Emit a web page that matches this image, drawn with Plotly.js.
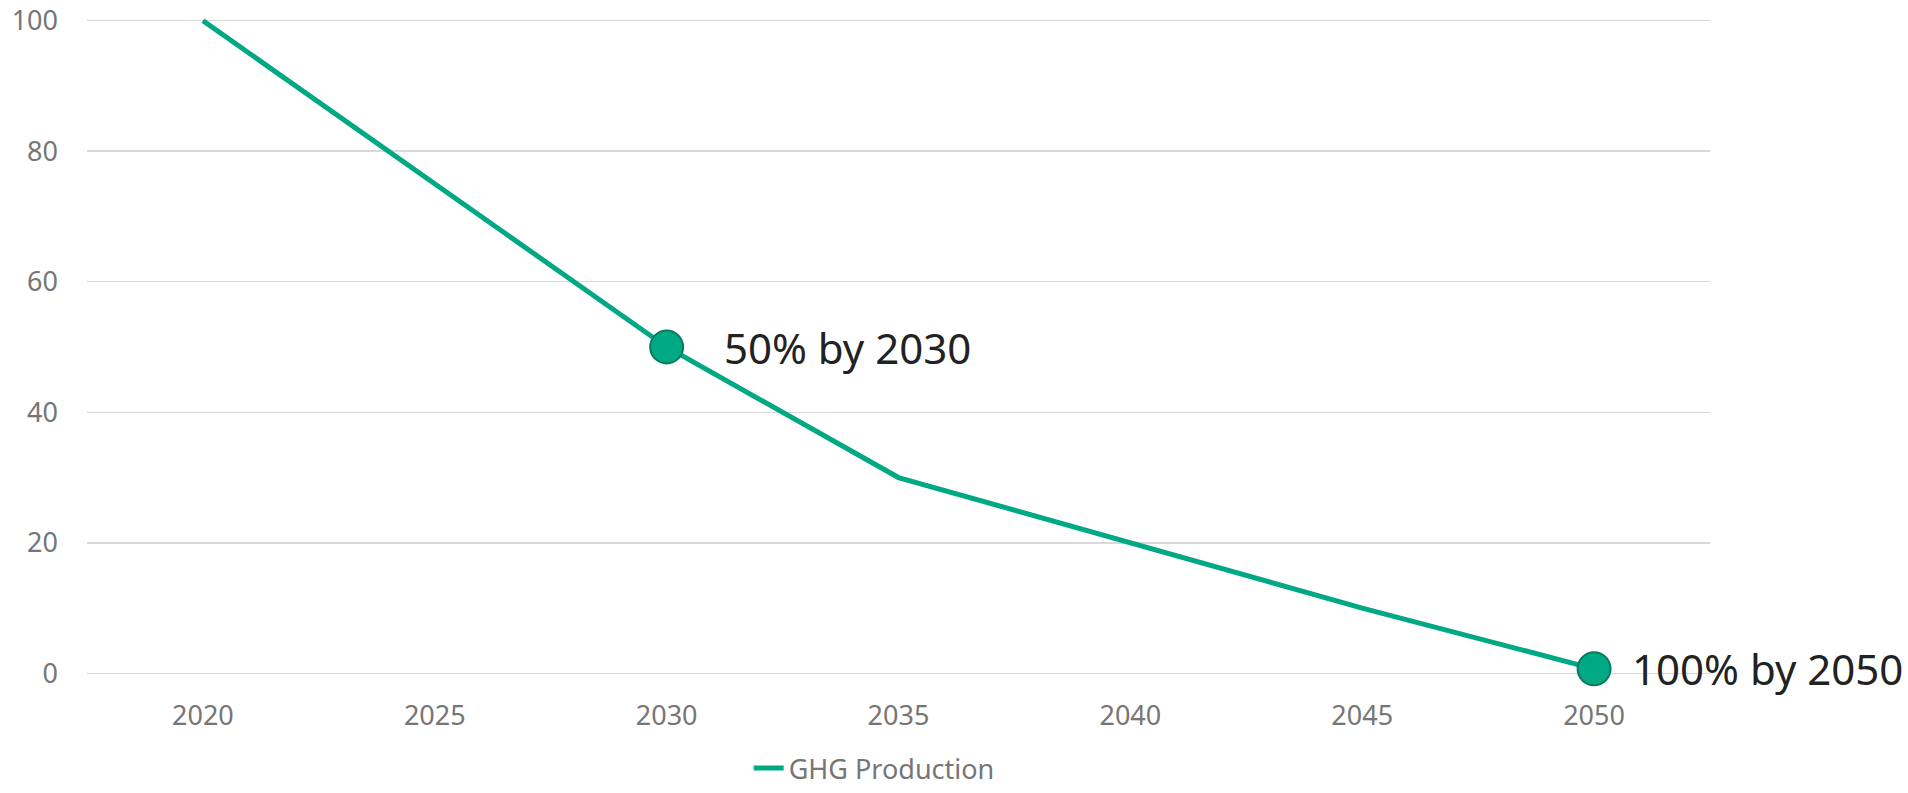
<!DOCTYPE html>
<html>
<head>
<meta charset="utf-8">
<script src="https://cdn.plot.ly/plotly-3.0.1.min.js"></script>
<style>html,body{margin:0;padding:0;background:#fff;}#chart{width:1908px;height:793px;}</style>
</head>
<body>
<div id="chart"></div>
<script>
const years = ['2020','2025','2030','2035','2040','2045','2050'];
const ghgProduction = [100, 75, 50, 30, 20, 10, 0.7];
const milestoneYears = ['2030','2050'];
const milestoneValues = [50, 0.7];
const milestoneLabels = ['50% by 2030','100% by 2050'];
const seriesName = 'GHG Production';
const yTicks = [0, 20, 40, 60, 80, 100];

const green = '#00A884';
const labelOffsets = [55, 36];

const traces = [
  {
    x: years, y: ghgProduction, type: 'scatter', mode: 'lines', name: seriesName,
    line: {color: green, width: 5}, cliponaxis: false, hoverinfo: 'x+y'
  },
  {
    x: milestoneYears, y: milestoneValues, type: 'scatter', mode: 'markers', showlegend: false,
    marker: {color: green, size: 33, line: {color: '#0B7A5F', width: 2}}, cliponaxis: false
  }
];

const annotations = milestoneYears.map((yr, i) => ({
  x: years.indexOf(yr), y: milestoneValues[i], xref: 'x', yref: 'y', text: milestoneLabels[i],
  showarrow: false, xanchor: 'left', yanchor: 'middle', xshift: labelOffsets[i],
  font: {family: 'Noto Sans, sans-serif', size: 42, color: '#222222'}
}));

const layout = {
  width: 1908, height: 793,
  margin: {l: 87, r: 198, t: 19, b: 118, autoexpand: false},
  paper_bgcolor: '#ffffff', plot_bgcolor: '#ffffff',
  font: {family: 'Noto Sans, sans-serif', size: 27, color: '#767676'},
  showlegend: true,
  legend: {orientation: 'h', x: 0.485, xanchor: 'center', yref: 'container', y: -0.008, yanchor: 'bottom',
           bgcolor: 'rgba(0,0,0,0)', font: {size: 27, color: '#767676'}},
  xaxis: {type: 'category', categoryorder: 'array', categoryarray: years,
          range: [-0.5, 6.5], showgrid: false, showline: false, zeroline: false,
          ticks: '', ticklabelstandoff: 22, tickfont: {size: 27, color: '#767676'}},
  yaxis: {range: [-0.25, 100.25], tickvals: yTicks, showgrid: true, gridcolor: '#d9d9d9', gridwidth: 1.5,
          zeroline: false, showline: false, ticks: '', ticklabelstandoff: 28,
          tickfont: {size: 27, color: '#767676'}},
  annotations: annotations
};

Plotly.newPlot('chart', traces, layout, {displayModeBar: false, staticPlot: true});
</script>
</body>
</html>
